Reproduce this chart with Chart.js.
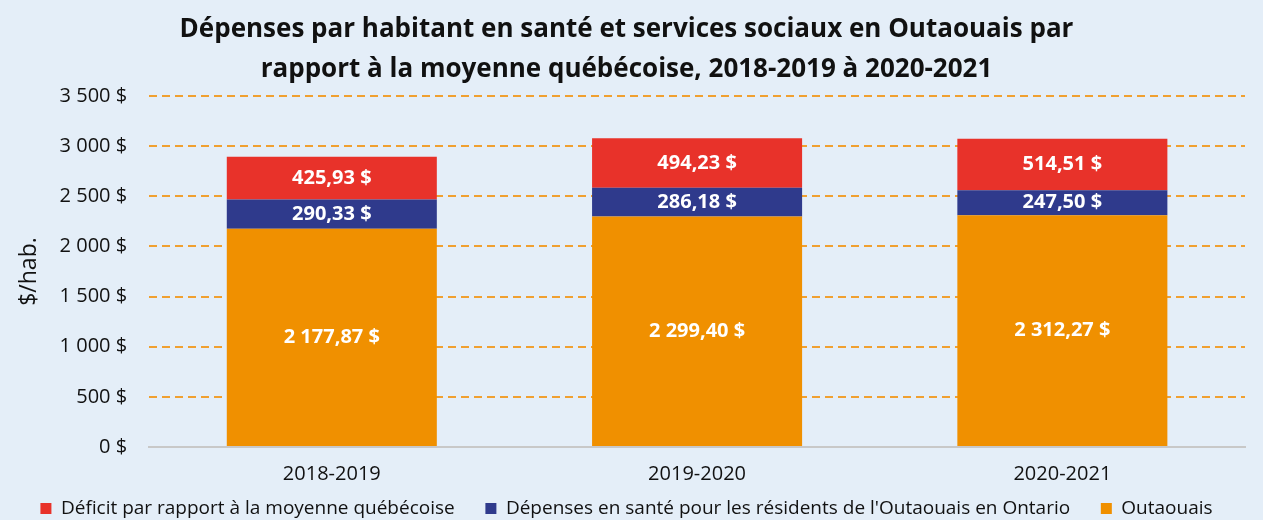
<!DOCTYPE html>
<html><head><meta charset="utf-8">
<script src="https://cdn.jsdelivr.net/npm/chart.js@4/dist/chart.umd.min.js"></script>
<style>html,body{margin:0;padding:0;background:#E4EEF8;}#wrap{width:1263px;height:520px;}</style>
</head><body><div id="wrap"><canvas id="c"></canvas></div>
<script>
const categories = ['2018-2019', '2019-2020', '2020-2021'];
const outaouais = [2177.87, 2299.40, 2312.27];
const depensesOntario = [290.33, 286.18, 247.50];
const deficit = [425.93, 494.23, 514.51];
const seriesNames = ['Outaouais', "Dépenses en santé pour les résidents de l'Outaouais en Ontario", 'Déficit par rapport à la moyenne québécoise'];
const titleLines = ['Dépenses par habitant en santé et services sociaux en Outaouais par', 'rapport à la moyenne québécoise, 2018-2019 à 2020-2021'];
const yTicks = [0, 500, 1000, 1500, 2000, 2500, 3000, 3500];

const FONT = 'Open Sans';
function fmtInt(v){ return String(Math.round(v)).replace(/\B(?=(\d{3})+(?!\d))/g, ' '); }
function fmtMoney(v){
  const parts = v.toFixed(2).split('.');
  return parts[0].replace(/\B(?=(\d{3})+(?!\d))/g, ' ') + ',' + parts[1] + ' $';
}
const labelPlugin = {
  id: 'barLabels',
  afterDatasetsDraw(chart){
    const ctx = chart.ctx;
    ctx.save();
    ctx.fillStyle = '#FFFFFF';
    ctx.font = 'bold 20px ' + FONT;
    ctx.textAlign = 'center';
    ctx.textBaseline = 'middle';
    chart.data.datasets.forEach((ds, i) => {
      const meta = chart.getDatasetMeta(i);
      meta.data.forEach((bar, j) => {
        const y = (bar.y + bar.base) / 2;
        ctx.fillText(fmtMoney(ds.data[j]), bar.x, y);
      });
    });
    ctx.restore();
  }
};
new Chart(document.getElementById('c'), {
  type: 'bar',
  data: {
    labels: categories,
    datasets: [
      { label: seriesNames[0], data: outaouais, backgroundColor: '#F09000' },
      { label: seriesNames[1], data: depensesOntario, backgroundColor: '#2F3A8C' },
      { label: seriesNames[2], data: deficit, backgroundColor: '#E8322A' }
    ]
  },
  options: {
    responsive: true, maintainAspectRatio: false, animation: false,
    categoryPercentage: 1, barPercentage: 0.575,
    layout: { padding: { left: 8, right: 18, top: 0, bottom: -8 } },
    plugins: {
      title: { display: true, text: titleLines, color: '#111', font: { family: FONT, size: 26, weight: 'bold', lineHeight: 1.54 }, padding: { top: 10, bottom: 6 } },
      legend: { position: 'bottom', reverse: true,
        labels: { color: '#111', font: { family: FONT, size: 19 }, boxWidth: 11, boxHeight: 11, padding: 6,
          generateLabels(chart){
            const items = Chart.defaults.plugins.legend.labels.generateLabels(chart);
            items.forEach(it => { if (it.datasetIndex !== 0) it.text = it.text + '     '; });
            return items;
          } } },
      tooltip: { enabled: false }
    },
    scales: {
      x: { stacked: true,
        grid: { display: false },
        border: { display: true, color: '#C8C8C8', width: 2 },
        ticks: { color: '#111', font: { family: FONT, size: 20 }, padding: 7 } },
      y: { stacked: true, min: 0, max: 3500,
        afterBuildTicks(axis){ axis.ticks = yTicks.map(v => ({ value: v })); },
        grid: { drawTicks: false, color: (c) => c.tick && c.tick.value === 0 ? 'rgba(0,0,0,0)' : '#F0A030', lineWidth: 2 },
        border: { display: false, dash: [8, 5] },
        ticks: { color: '#111', font: { family: FONT, size: 20 }, padding: 22, callback: (v) => fmtInt(v) + ' $' },
        title: { display: true, text: '$/hab.', color: '#111', font: { family: FONT, size: 23 }, padding: { top: 8, bottom: -6 } } }
    }
  },
  plugins: [labelPlugin]
});
</script></body></html>
